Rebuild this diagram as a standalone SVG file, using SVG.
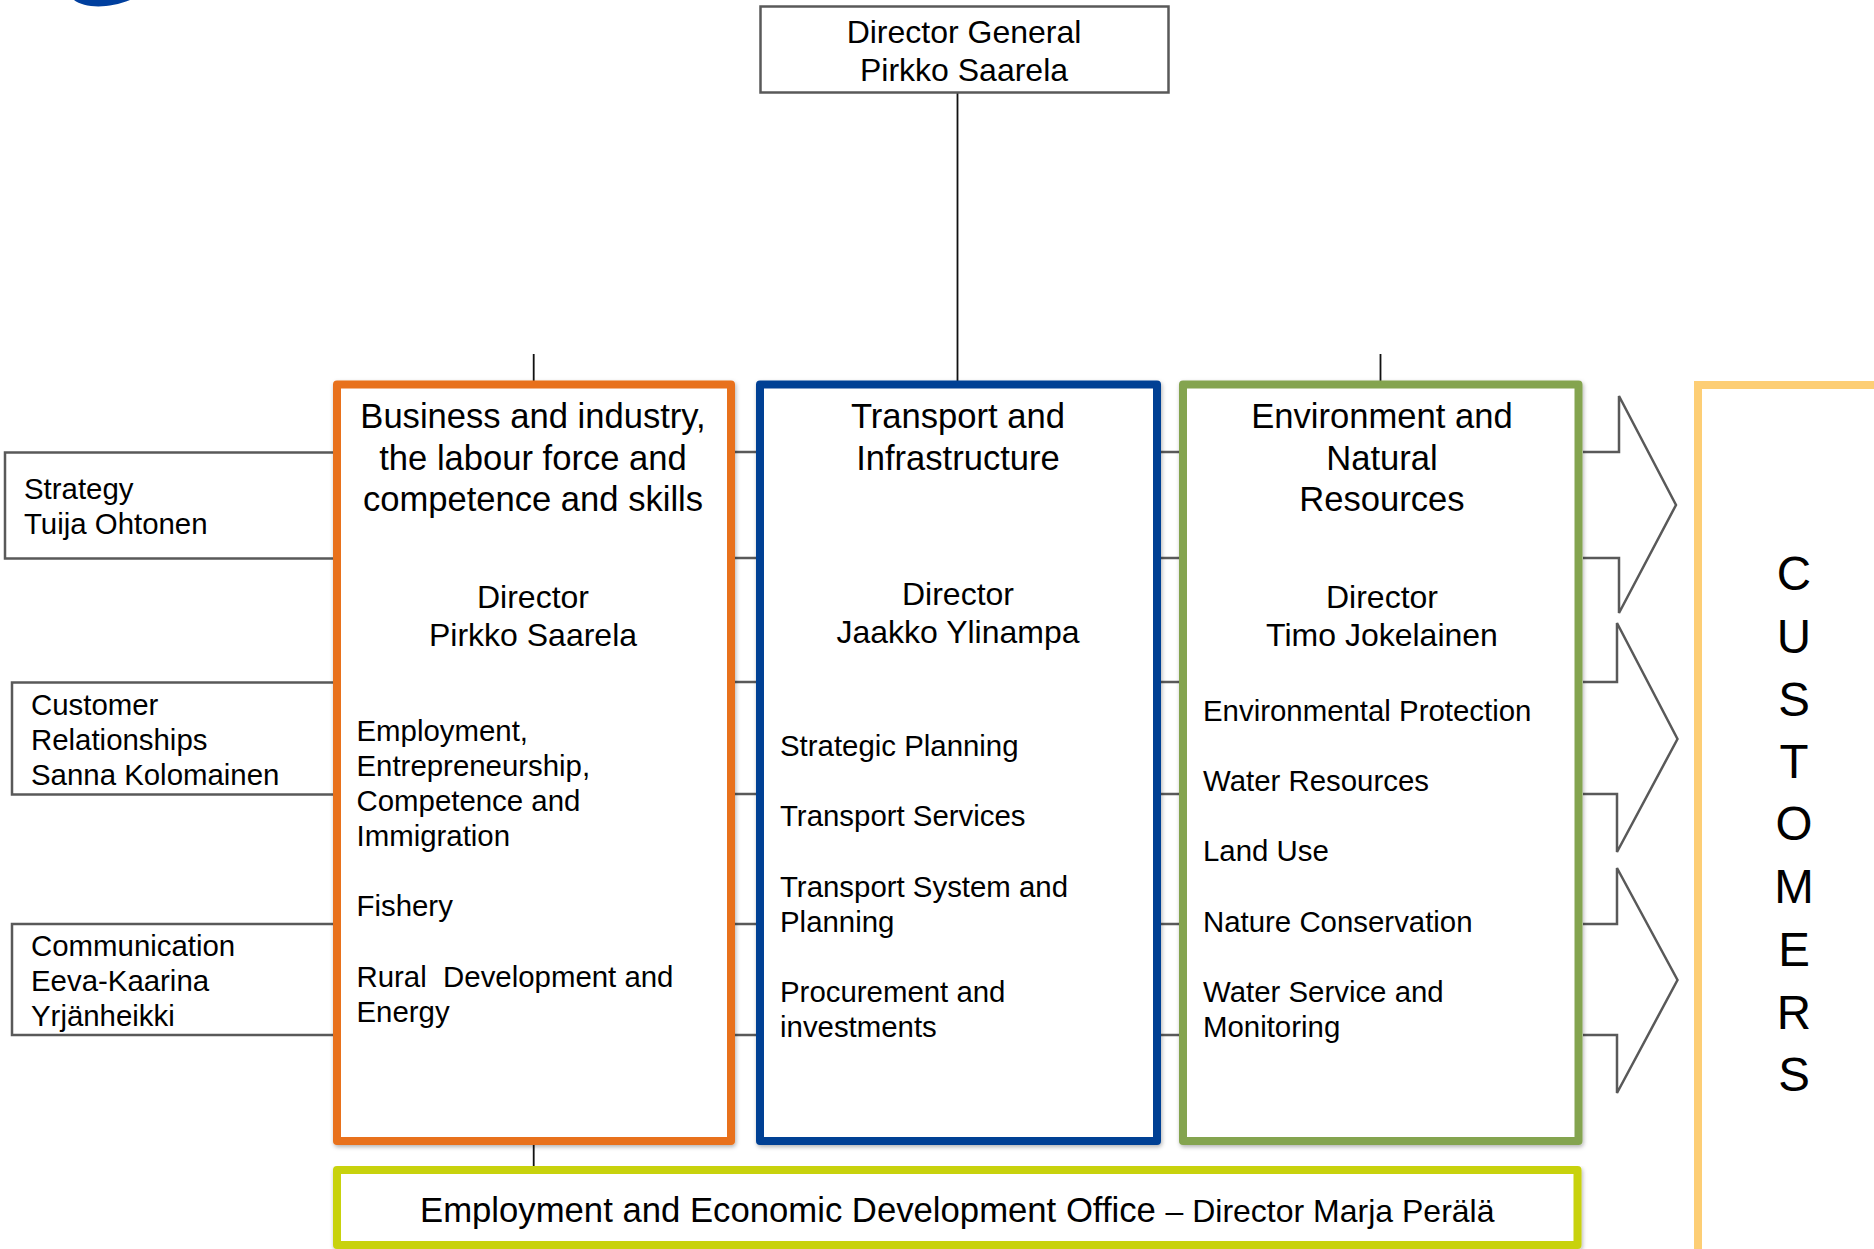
<svg xmlns="http://www.w3.org/2000/svg" width="1874" height="1249" viewBox="0 0 1874 1249">
<style>
text{font-family:"Liberation Sans",Arial,sans-serif;fill:#000}
.t{font-size:34.6px;text-anchor:middle}
.d{font-size:32px;text-anchor:middle}
.b{font-size:29.4px;white-space:pre}
.e{font-size:47.5px;text-anchor:middle}
.col{fill:#fff;stroke-width:8;stroke-linejoin:round;filter:url(#sh)}
.ln{fill:none;stroke:#595959;stroke-width:2.5}
.k{fill:none;stroke:#111;stroke-width:1.8}
.ar{fill:#fff;stroke:#595959;stroke-width:2.5}
</style>
<defs><filter id="sh" x="-5%" y="-5%" width="110%" height="110%"><feDropShadow dx="1" dy="2" stdDeviation="2" flood-color="#000" flood-opacity="0.3"/></filter></defs>
<rect width="1874" height="1249" fill="#fff"/>
<path id="logo" d="M74 0C84 8 108 9 130 0Z" fill="#003f9e"/>
<g id="connectors">
<path class="k" d="M957.500 93V381M533.700 354V381M1380.500 354V381M533.700 1145V1166"/>
<path class="ln" d="M735 452H756M735 558H756M735 682H756M735 794H756M735 924H756M735 1035H756M1161 452H1179M1161 558H1179M1161 682H1179M1161 794H1179M1161 924H1179M1161 1035H1179"/>
</g>
<g id="arrows">
<path class="ar" d="M1583 452H1619V396L1676 505L1619 613V558H1583"/>
<path class="ar" d="M1583 682H1617V623L1677.500 739L1617 852V794H1583"/>
<path class="ar" d="M1583 924H1617V868L1677.500 980L1617 1093V1035H1583"/>
</g>
<g id="director-general"><rect x="760.500" y="6.500" width="408" height="86" fill="#fff" stroke="#595959" stroke-width="2.500"/>
<text class="d" x="964" y="43">Director General</text><text class="d" x="964" y="81">Pirkko Saarela</text></g>
<g id="strategy"><path class="ln" d="M335 452.500H5V558.500H335"/>
<text class="b" x="24" y="499">Strategy</text><text class="b" x="24" y="534">Tuija Ohtonen</text></g>
<g id="customer-relationships"><path class="ln" d="M335 682.500H12V794.500H335"/>
<text class="b" x="31" y="715">Customer</text><text class="b" x="31" y="750">Relationships</text><text class="b" x="31" y="785">Sanna Kolomainen</text></g>
<g id="communication"><path class="ln" d="M335 924H12V1035H335"/>
<text class="b" x="31" y="956">Communication</text><text class="b" x="31" y="991">Eeva-Kaarina</text><text class="b" x="31" y="1026">Yrjänheikki</text></g>
<g id="business"><rect class="col" x="337" y="384.500" width="394" height="756.500" stroke="#e8711a"/>
<text class="t" x="533" y="428">Business and industry,</text><text class="t" x="533" y="470">the labour force and</text><text class="t" x="533" y="511">competence and skills</text>
<text class="d" x="533" y="608">Director</text><text class="d" x="533" y="646">Pirkko Saarela</text>
<text class="b" x="356.500" y="741">Employment,</text><text class="b" x="356.500" y="776">Entrepreneurship,</text><text class="b" x="356.500" y="811">Competence and</text><text class="b" x="356.500" y="846">Immigration</text>
<text class="b" x="356.500" y="916">Fishery</text>
<text class="b" x="356.500" y="987" xml:space="preserve">Rural  Development and</text><text class="b" x="356.500" y="1022">Energy</text></g>
<g id="transport"><rect class="col" x="760" y="384.500" width="397" height="756.500" stroke="#054094"/>
<text class="t" x="958" y="428">Transport and</text><text class="t" x="958" y="470">Infrastructure</text>
<text class="d" x="958" y="605">Director</text><text class="d" x="958" y="643">Jaakko Ylinampa</text>
<text class="b" x="780" y="756">Strategic Planning</text>
<text class="b" x="780" y="826">Transport Services</text>
<text class="b" x="780" y="897">Transport System and</text><text class="b" x="780" y="932">Planning</text>
<text class="b" x="780" y="1002">Procurement and</text><text class="b" x="780" y="1037">investments</text></g>
<g id="environment"><rect class="col" x="1183" y="384.500" width="395.500" height="756.500" stroke="#84a450"/>
<text class="t" x="1382" y="428">Environment and</text><text class="t" x="1382" y="470">Natural</text><text class="t" x="1382" y="511">Resources</text>
<text class="d" x="1382" y="608">Director</text><text class="d" x="1382" y="646">Timo Jokelainen</text>
<text class="b" x="1203" y="721">Environmental Protection</text>
<text class="b" x="1203" y="791">Water Resources</text>
<text class="b" x="1203" y="861">Land Use</text>
<text class="b" x="1203" y="932">Nature Conservation</text>
<text class="b" x="1203" y="1002">Water Service and</text><text class="b" x="1203" y="1037">Monitoring</text></g>
<g id="office"><rect class="col" x="337" y="1170" width="1240.500" height="75" stroke="#c8d20a"/>
<text x="420" y="1222" font-size="34.700">Employment and Economic Development Office <tspan font-size="32">– Director Marja Perälä</tspan></text></g>
<g id="customers"><rect x="1698" y="385" width="200" height="900" fill="#fff" stroke="#fdce75" stroke-width="8"/>
<text class="e" x="1794" y="590">C</text><text class="e" x="1794" y="653">U</text><text class="e" x="1794" y="716">S</text><text class="e" x="1794" y="778">T</text><text class="e" x="1794" y="840">O</text><text class="e" x="1794" y="903">M</text><text class="e" x="1794" y="966">E</text><text class="e" x="1794" y="1029">R</text><text class="e" x="1794" y="1091">S</text></g>
</svg>
